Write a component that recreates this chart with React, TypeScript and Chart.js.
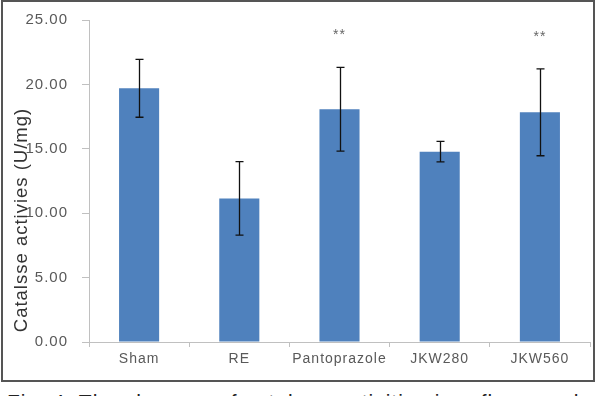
import { useEffect, useRef } from 'react';
import { Chart, registerables } from 'chart.js';

Chart.register(...registerables);

const categories = ['Sham', 'RE', 'Pantoprazole', 'JKW280', 'JKW560'];
const meanValues = [19.7, 11.15, 18.07, 14.78, 17.83];
const sdValues = [2.25, 2.85, 3.25, 0.8, 3.37];
const sigMarks = ['', '', '**', '', '**'];
const yMin = 0;
const yMax = 25;
const yStep = 5;
const yTitle = 'Catalsse activies (U/mg)';
const caption = 'Fig. 4. The changes of catalase activities in reflux esophagitis';

const FONT = '"Liberation Sans", Arial, sans-serif';

const spacingPlugin = {
  id: 'spacing',
  beforeLayout(chart: any) {
    chart.ctx.letterSpacing = '1px';
  },
  beforeDraw(chart: any) {
    chart.ctx.letterSpacing = '1px';
  },
};

const errorBarPlugin = {
  id: 'errorBars',
  afterDatasetsDraw(chart: any) {
    const ctx = chart.ctx;
    const meta = chart.getDatasetMeta(0);
    const y = chart.scales.y;
    ctx.save();
    ctx.strokeStyle = '#111';
    ctx.lineWidth = 1.3;
    meta.data.forEach((bar: any, i: number) => {
      const x = Math.round(bar.x) + 0.5;
      const top = y.getPixelForValue(meanValues[i] + sdValues[i]);
      const bot = y.getPixelForValue(meanValues[i] - sdValues[i]);
      ctx.beginPath();
      ctx.moveTo(x, top);
      ctx.lineTo(x, bot);
      ctx.moveTo(x - 4, top);
      ctx.lineTo(x + 4, top);
      ctx.moveTo(x - 4, bot);
      ctx.lineTo(x + 4, bot);
      ctx.stroke();
      if (sigMarks[i]) {
        ctx.fillStyle = '#666';
        ctx.font = `14px ${FONT}`;
        ctx.textAlign = 'center';
        ctx.textBaseline = 'middle';
        ctx.fillText(sigMarks[i], bar.x, top - 32);
      }
    });
    ctx.restore();
  },
  afterDraw(chart: any) {
    const ctx = chart.ctx;
    ctx.save();
    ctx.letterSpacing = '1px';
    ctx.translate(19, 218);
    ctx.rotate(-Math.PI / 2);
    ctx.fillStyle = '#333';
    ctx.font = `18.5px ${FONT}`;
    ctx.textAlign = 'center';
    ctx.textBaseline = 'middle';
    ctx.fillText(yTitle, 0, 0);
    ctx.restore();
  },
};

export default function App() {
  const ref = useRef<HTMLCanvasElement | null>(null);

  useEffect(() => {
    if (!ref.current) return;
    const chart = new Chart(ref.current, {
      type: 'bar',
      data: {
        labels: categories,
        datasets: [
          {
            data: meanValues,
            backgroundColor: '#4f81bd',
            borderWidth: 0,
            barPercentage: 0.4,
            categoryPercentage: 1,
          },
        ],
      },
      options: {
        responsive: false,
        animation: false,
        devicePixelRatio: 1,
        layout: { padding: { top: 18, right: 3, left: 0, bottom: 0 } },
        plugins: {
          legend: { display: false },
          tooltip: { enabled: false },
        },
        scales: {
          x: {
            offset: true,
            grid: {
              offset: true,
              drawOnChartArea: false,
              drawTicks: true,
              tickLength: 5,
              color: '#c0c0c0',
            },
            border: { color: '#c0c0c0', width: 1 },
            ticks: {
              color: '#595959',
              font: { family: FONT, size: 14 },
              padding: 4,
              maxRotation: 0,
              autoSkip: false,
            },
            afterFit(scale: any) {
              scale.height = 38;
              scale.paddingLeft = 0;
              scale.paddingRight = 0;
            },
          },
          y: {
            min: yMin,
            max: yMax,
            grid: {
              drawOnChartArea: false,
              drawTicks: true,
              tickLength: 7,
              color: '#c0c0c0',
            },
            border: { color: '#c0c0c0', width: 1 },
            ticks: {
              stepSize: yStep,
              color: '#595959',
              font: { family: FONT, size: 15 },
              padding: 14,
              callback: (v: any) => Number(v).toFixed(2),
            },
            afterFit(scale: any) {
              scale.width = 86;
              scale.paddingTop = 0;
              scale.paddingBottom = 0;
            },
          },
        },
      },
      plugins: [spacingPlugin, errorBarPlugin],
    });
    return () => chart.destroy();
  }, []);

  return (
    <div
      style={{
        position: 'absolute',
        left: 0,
        top: 0,
        width: 600,
        height: 396,
        overflow: 'hidden',
        background: '#fff',
      }}
    >
      <div
        style={{
          position: 'absolute',
          left: 1,
          top: 0,
          width: 594,
          height: 382,
          border: '2px solid #555',
          boxSizing: 'border-box',
          background: '#fff',
        }}
      >
        <canvas ref={ref} width={590} height={378} style={{ display: 'block', width: 590, height: 378 }} />
      </div>
      <div
        style={{
          position: 'absolute',
          left: 7,
          top: 390,
          whiteSpace: 'nowrap',
          font: `21px ${FONT}`,
          letterSpacing: '1px',
          color: '#222',
        }}
      >
        {caption}
      </div>
    </div>
  );
}
